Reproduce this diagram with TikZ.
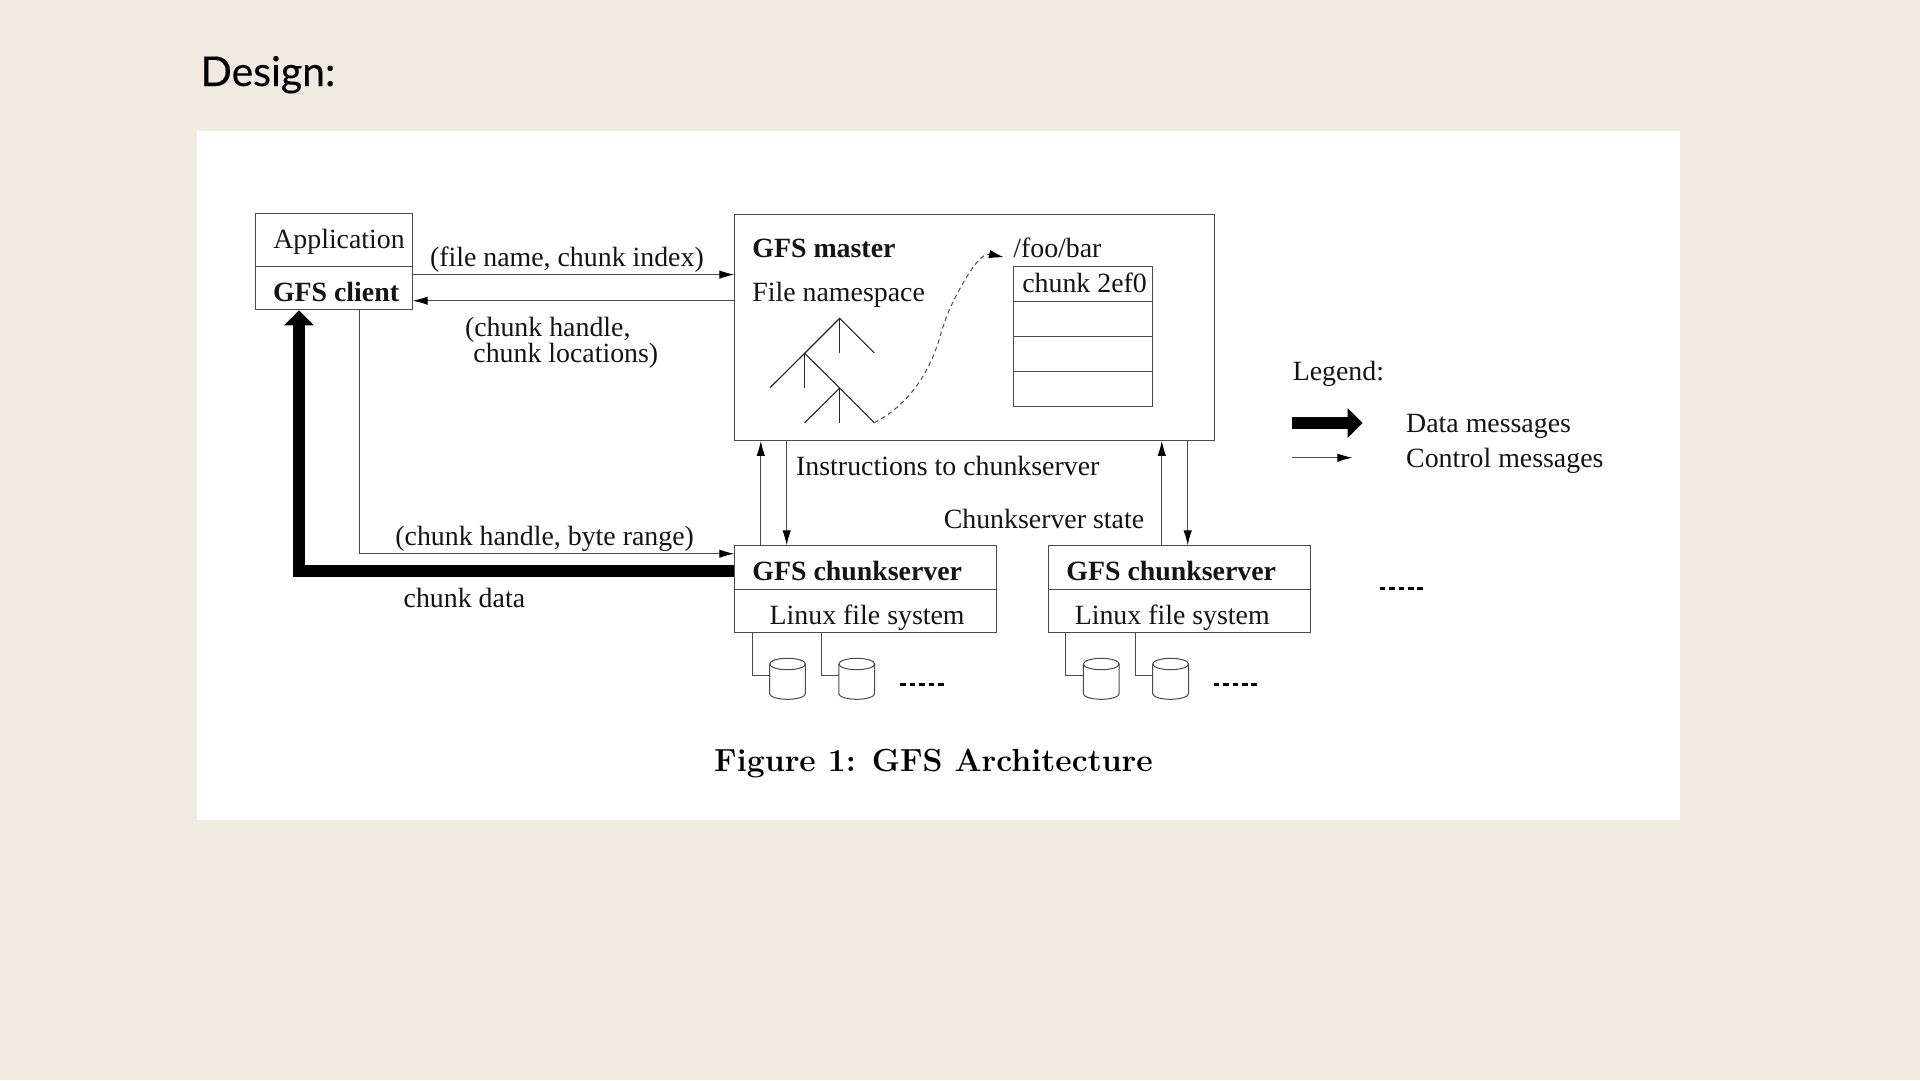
\documentclass[tikz,border=0pt]{standalone}
\usepackage{fontspec}
\usetikzlibrary{arrows.meta,calc}
\newfontfamily\timesf{Liberation Serif}
\newfontfamily\latof[FakeBold=0.25]{Lato}
\definecolor{bgcream}{HTML}{EFEBE0}
\definecolor{linegrey}{HTML}{4A4A4A}
\tikzset{
  box/.style={draw=linegrey,line width=1pt,inner sep=0pt,anchor=north west,fill=white},
  txt/.style={anchor=base west,inner sep=0pt,outer sep=0pt,font=\timesf\fontsize{27.85}{30}\selectfont,text=black!92},
  btxt/.style={txt,font=\timesf\bfseries\fontsize{27.85}{30}\selectfont},
  ctrl/.style={draw=linegrey,line width=1pt,-{Latex[length=15pt,width=8.5pt,black]}},
  plainline/.style={draw=linegrey,line width=1pt},
  datamsg/.style={line width=12pt,black,-{Triangle[length=15pt,width=29pt]}},
  treeline/.style={draw=black!85,line width=1.1pt},
  dotline/.style={black,line width=2.6pt,dash pattern=on 5.5pt off 3.9pt},
  disk/.pic={
    \coordinate (-w) at (-17.9,11.7);
    \draw[linegrey,line width=1pt] (-17.9,0) -- (-17.9,29.6) arc[start angle=180,end angle=360,x radius=17.9pt,y radius=5.7pt] -- (17.9,0);
    \draw[linegrey,line width=1pt] (0,0) ellipse[x radius=17.9pt,y radius=5.7pt];
  }
}
\begin{document}
\begin{tikzpicture}[x=1pt,y=-1pt]
\useasboundingbox (0,0) rectangle (1920,1080);
\fill[bgcream] (0,0) rectangle (1920,1080);
\node[anchor=base west,inner sep=0pt,font=\latof\fontsize{41}{44}\selectfont,text=black] (title) at (200.5,86) {Design:};
\node[fill=white,anchor=north west,inner sep=0pt,minimum width=1483pt,minimum height=689pt] (panel) at (197,131) {};

% client
\node[box,minimum width=156.4pt,minimum height=52.7pt] (app) at (255.3,213.3) {};
\node[box,minimum width=156.4pt,minimum height=43.3pt] (client) at (255.3,266) {};
\node[txt] (apptxt) at (273.3,248.5) {Application};
\node[btxt] (clienttxt) at (273,301.5) {GFS client};

% master
\node[box,minimum width=479.4pt,minimum height=226.2pt] (master) at (734.3,213.7) {};
\node[btxt] (mastertxt) at (752.4,257.5) {GFS master};
\node[txt] (nstxt) at (752.4,301.3) {File namespace};
\node[txt] (foo) at (1013.3,257.5) {/foo/bar};
\node[box,minimum width=139pt,minimum height=34.7pt] (c1) at (1013.3,266) {};
\node[box,minimum width=139pt,minimum height=35.3pt] (c2) at (1013.3,300.7) {};
\node[box,minimum width=139pt,minimum height=35pt] (c3) at (1013.3,336) {};
\node[box,minimum width=139pt,minimum height=34.5pt] (c4) at (1013.3,371) {};
\node[txt] (chunktxt) at (1022.3,292) {chunk 2ef0};

% tree
\coordinate (t1) at (839.7,318.3);
\coordinate (t2) at (804.7,353.3);
\coordinate (t3) at (839.7,388);
\coordinate (leaf) at (874.3,422.7);
\draw[treeline] (770,387.7) -- (t2) -- (t1) -- (874.3,353);
\draw[treeline] (t1) -- (839.7,353);
\draw[treeline] (t2) -- (804.7,388);
\draw[treeline] (t2) -- (t3) -- (leaf);
\draw[treeline] (t3) -- (804.7,422.7);
\draw[treeline] (t3) -- (839.7,422.7);
\coordinate (foot) at (1004,257.3);
\draw[draw=black!70,line width=1pt,dash pattern=on 4.5pt off 3.5pt,-{Latex[length=15pt,width=8.5pt,black]}]
  (leaf) .. controls (908,405) and (928,375) .. (939,340)
  .. controls (943,326) and (947,314) .. (953,302)
  .. controls (964,280) and (980,252) .. (foot);

% chunkservers
\node[box,minimum width=261.5pt,minimum height=43.7pt] (cs1) at (734.3,545.3) {};
\node[box,minimum width=261.5pt,minimum height=43.1pt] (fs1) at (734.3,589) {};
\node[btxt] (cs1txt) at (752.4,580.2) {GFS chunkserver};
\node[txt] (fs1txt) at (769.7,624.5) {Linux file system};
\node[box,minimum width=261.5pt,minimum height=43.7pt] (cs2) at (1048.3,545.3) {};
\node[box,minimum width=261.5pt,minimum height=43.1pt] (fs2) at (1048.3,589) {};
\node[btxt] (cs2txt) at (1066.4,580.2) {GFS chunkserver};
\node[txt] (fs2txt) at (1074.8,624.5) {Linux file system};

% disks
\pic (d1) at (787.5,664) {disk};
\pic (d2) at (856.7,664) {disk};
\pic (d3) at (1101.3,664) {disk};
\pic (d4) at (1170.6,664) {disk};
\draw[plainline] (752.2,0 |- fs1.south) |- (d1-w);
\draw[plainline] (821.6,0 |- fs1.south) |- (d2-w);
\draw[plainline] (1065.7,0 |- fs2.south) |- (d3-w);
\draw[plainline] (1135.2,0 |- fs2.south) |- (d4-w);
\draw[dotline] (900.4,684.3) -- (943.8,684.3);
\draw[dotline] (1213.8,684.3) -- (1257.2,684.3);
\draw[dotline] (1379.8,588.3) -- (1424.5,588.3);

% control connectors
\draw[ctrl] (client.east |- 0,274.6) -- (master.west |- 0,274.6);
\draw[ctrl] (master.west |- 0,300.7) -- (client.east |- 0,300.7);
\draw[ctrl] (359.6,0 |- client.south) |- (cs1.west |- 0,553.7);
\draw[ctrl] (760.8,0 |- cs1.north) -- (760.8,0 |- master.south);
\draw[ctrl] (786.7,0 |- master.south) -- (786.7,0 |- cs1.north);
\draw[ctrl] (1161.8,0 |- cs2.north) -- (1161.8,0 |- master.south);
\draw[ctrl] (1187.7,0 |- master.south) -- (1187.7,0 |- cs2.north);

% data connector
\draw[datamsg] (cs1.west |- 0,571.3) -| (299,0 |- client.south);

% labels
\node[txt] (l1) at (430,266) {(file name, chunk index)};
\node[txt] (l2) at (465,336.5) {(chunk handle,};
\node[txt] (l3) at (473.4,362.5) {chunk locations)};
\node[txt] (l4) at (395.4,545.5) {(chunk handle, byte range)};
\node[txt] (l5) at (403.7,607) {chunk data};
\node[txt] (l6) at (796.2,475.3) {Instructions to chunkserver};
\node[txt] (l7) at (943.8,528.5) {Chunkserver state};

% legend
\node[txt] (leg) at (1292.8,380) {Legend:};
\node[txt] (legd) at (1406.2,432.8) {Data messages};
\node[txt] (legc) at (1406.2,467) {Control messages};
\coordinate (la) at (1292.3,423);
\coordinate (lb) at (1362.7,423);
\coordinate (lc) at (1292.3,457.7);
\coordinate (ld) at (1352.3,457.7);
\draw[datamsg] (la) -- (lb);
\draw[ctrl,line width=.9pt] (lc) -- (ld);

% caption
\node[anchor=base west,inner sep=0pt,font=\rmfamily\bfseries\fontsize{31.95}{34}\selectfont] (cap) at (714,771.7) {Figure 1: GFS Architecture};
\end{tikzpicture}
\end{document}
